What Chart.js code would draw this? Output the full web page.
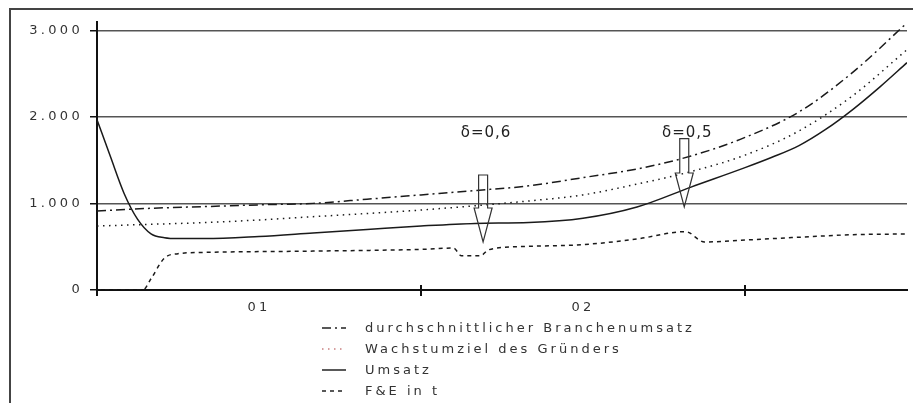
<!DOCTYPE html>
<html>
<head>
<meta charset="utf-8">
<script src="https://cdn.jsdelivr.net/npm/chart.js@4.4.1/dist/chart.umd.min.js"></script>
<style>
  html, body { margin: 0; padding: 0; background: #fff; }
  #wrap { position: relative; width: 913px; height: 403px; overflow: hidden; }
  #frame { position: absolute; left: 9px; top: 8px; right: 0; bottom: 0;
           border-left: 2px solid #444; border-top: 2px solid #444; pointer-events: none; }
  #legend { position: absolute; left: 322px; top: 317px; font-family: 'DejaVu Sans', sans-serif;
            font-size: 13px; letter-spacing: 3px; color: #333; }
  #legend .row { height: 21px; display: flex; align-items: center; }
  #legend svg { width: 24px; height: 10px; margin-right: 19px; }
</style>
</head>
<body>
<div id="wrap">
  <canvas id="chart" width="913" height="403"></canvas>
  <div id="frame"></div>
  <div id="legend"></div>
</div>
<script>
// x values are months since start, each year block = 12 months
const gridMonths = [0, 2, 4, 6, 8, 10, 12, 14, 16, 18, 20, 22, 24, 26, 28, 30];
const branchenUmsatz = [915, 945, 965, 985, 1002, 1050, 1100, 1150, 1205, 1300, 1400, 1550, 1765, 2060, 2520, 3090];
const wachstumsziel = [740, 760, 780, 810, 848, 885, 925, 975, 1030, 1100, 1225, 1370, 1560, 1840, 2250, 2780];

const umsatzMonths = [0, 0.5, 1, 1.5, 2, 2.5, 3, 4, 6, 8, 10, 12, 14, 16, 18, 20, 22, 24, 25, 26, 27, 28, 29, 30];
const umsatz = [1970, 1540, 1120, 820, 650, 605, 595, 595, 620, 660, 700, 740, 770, 780, 830, 960, 1190, 1415, 1535, 1670, 1860, 2090, 2350, 2630];

const feMonths = [0, 1.7, 2, 2.5, 3, 4, 8, 12, 13.2, 13.5, 14.2, 14.5, 16, 18, 20, 21.8, 22.5, 24, 26, 28, 30];
const feInT = [0, 0, 130, 370, 420, 435, 450, 470, 485, 395, 395, 465, 505, 525, 590, 675, 555, 578, 610, 640, 648];

const yearTickMonths = [0, 12, 24];
const yearLabelMonths = [6, 18];
const yearLabels = ['01', '02'];
const yTicks = [0, 1000, 2000, 3000];

const arrowMonths = [14.3, 21.75];
const arrowTops = [1330, 1750];
const arrowTips = [555, 960];
const arrowLabelValues = [1820, 1815];
const arrowLabels = ['δ=0,6', 'δ=0,5'];

const seriesInfo = [
  { label: 'durchschnittlicher Branchenumsatz', months: gridMonths, values: branchenUmsatz, dash: [9, 4, 2, 4], legendColor: '#222' },
  { label: 'Wachstumziel des Gründers', months: gridMonths, values: wachstumsziel, dash: [1.5, 4.5], legendColor: '#c98080' },
  { label: 'Umsatz', months: umsatzMonths, values: umsatz, dash: [], legendColor: '#222' },
  { label: 'F&E in t', months: feMonths, values: feInT, dash: [4, 4], legendColor: '#222' },
];

const FONT = "'DejaVu Sans', sans-serif";

const spacingPlugin = {
  id: 'spacing',
  beforeUpdate(chart) { chart.ctx.letterSpacing = '3.3px'; },
};

const marksPlugin = {
  id: 'marks',
  afterDraw(chart) {
    const { ctx, chartArea, scales: { x, y } } = chart;
    ctx.save();
    // year boundary ticks crossing the x axis
    ctx.strokeStyle = '#111';
    ctx.lineWidth = 2;
    yearTickMonths.forEach(m => {
      const px = x.getPixelForValue(m);
      ctx.beginPath();
      ctx.moveTo(px, chartArea.bottom - 5);
      ctx.lineTo(px, chartArea.bottom + 6);
      ctx.stroke();
    });
    // hollow arrows with delta labels
    ctx.lineWidth = 1.2;
    ctx.strokeStyle = '#333';
    ctx.fillStyle = '#222';
    ctx.font = '15px ' + FONT;
    ctx.letterSpacing = '1px';
    ctx.textAlign = 'center';
    ctx.textBaseline = 'middle';
    arrowMonths.forEach((m, i) => {
      const px = x.getPixelForValue(m);
      const top = y.getPixelForValue(arrowTops[i]);
      const tip = y.getPixelForValue(arrowTips[i]);
      const head = 34, sw = 4.5, hw = 9;
      ctx.beginPath();
      ctx.moveTo(px - sw, top);
      ctx.lineTo(px + sw, top);
      ctx.lineTo(px + sw, tip - head);
      ctx.lineTo(px + hw, tip - head);
      ctx.lineTo(px, tip);
      ctx.lineTo(px - hw, tip - head);
      ctx.lineTo(px - sw, tip - head);
      ctx.closePath();
      ctx.stroke();
      ctx.fillText(arrowLabels[i], px + 3, y.getPixelForValue(arrowLabelValues[i]));
    });
    ctx.restore();
  },
};

new Chart(document.getElementById('chart'), {
  type: 'line',
  data: {
    datasets: seriesInfo.map(s => ({
      label: s.label,
      data: s.months.map((m, i) => ({ x: m, y: s.values[i] })),
      borderColor: '#1a1a1a',
      borderWidth: 1.5,
      borderDash: s.dash,
      pointRadius: 0,
      fill: false,
      cubicInterpolationMode: 'monotone',
    })),
  },
  options: {
    responsive: false,
    animation: false,
    layout: { padding: { left: 0, top: 22, right: 6, bottom: 0 } },
    plugins: { legend: { display: false }, tooltip: { enabled: false } },
    scales: {
      x: {
        type: 'linear',
        min: 0,
        max: 30,
        afterBuildTicks: scale => { scale.ticks = yearLabelMonths.map(v => ({ value: v })); },
        afterFit: scale => { scale.height = 113; },
        ticks: {
          callback: v => yearLabels[yearLabelMonths.indexOf(v)],
          font: { family: FONT, size: 13 },
          color: '#333',
          padding: 10,
          maxRotation: 0,
        },
        grid: { display: false, drawTicks: false },
        border: { display: true, color: '#111', width: 2 },
      },
      y: {
        min: 0,
        max: 3100,
        afterBuildTicks: scale => { scale.ticks = yTicks.map(v => ({ value: v })); },
        afterFit: scale => { scale.width = 97; },
        ticks: {
          callback: v => v.toLocaleString('de-DE'),
          font: { family: FONT, size: 13 },
          color: '#333',
          padding: 7,
        },
        grid: {
          color: ctx => (ctx.tick && ctx.tick.value === 0 ? '#111' : '#555'),
          lineWidth: 1.5,
          tickLength: 7,
          tickColor: '#111',
        },
        border: { display: true, color: '#111', width: 2 },
      },
    },
  },
  plugins: [spacingPlugin, marksPlugin],
});

// legend below the plot
const legendEl = document.getElementById('legend');
seriesInfo.forEach(s => {
  const row = document.createElement('div');
  row.className = 'row';
  row.innerHTML = '<svg viewBox="0 0 24 10"><line x1="0" y1="5" x2="24" y2="5" stroke="' + s.legendColor +
    '" stroke-width="1.5" stroke-dasharray="' + (s.dash.length ? s.dash.join(' ') : 'none') + '"/></svg>';
  const span = document.createElement('span');
  span.textContent = s.label;
  row.appendChild(span);
  legendEl.appendChild(row);
});
</script>
</body>
</html>
